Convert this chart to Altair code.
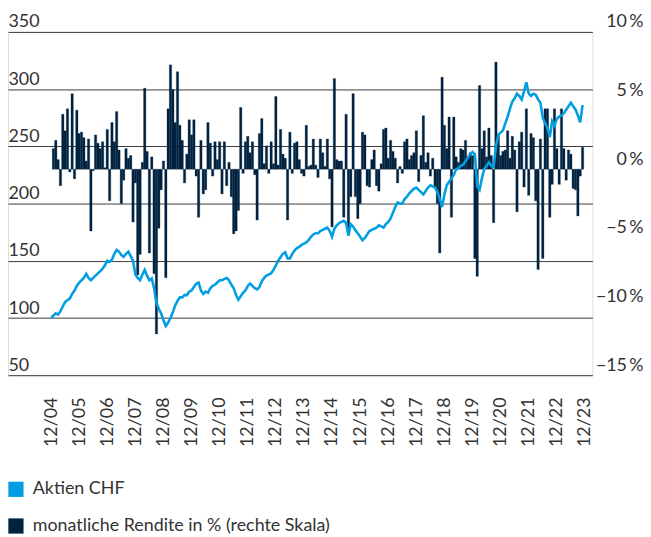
import altair as alt
import pandas as pd

# ---------------- data ----------------
tick_labels = ["12/04", "12/05", "12/06", "12/07", "12/08", "12/09", "12/10",
               "12/11", "12/12", "12/13", "12/14", "12/15", "12/16", "12/17",
               "12/18", "12/19", "12/20", "12/21", "12/22", "12/23"]

# Aktien CHF index (left scale), monthly, starting 12/2004 = 100
aktien_chf = [
    100, 102, 104, 103, 106, 110, 114, 115.5, 117, 121, 124, 128,
    131, 133, 135, 138.5, 135, 133, 135, 137, 139, 141, 143, 146,
    150, 149, 151, 156, 159.5, 158, 155, 153.5, 156, 158, 154, 150,
    138, 135, 133, 138, 142, 137, 133, 134.5, 126, 113, 108, 104,
    98, 93, 96, 100, 105, 111, 115, 118, 118, 120, 120, 123,
    124, 127, 130, 131, 124, 121, 123, 122, 126, 128, 129, 131,
    133, 133, 134, 135, 133, 129, 126, 120, 116, 119, 122, 124,
    128, 130, 128, 126, 125, 127, 132, 135, 137, 138, 139, 142,
    146, 150, 153, 156, 157.5, 152, 152, 156, 159, 161, 162, 164,
    165, 166, 168, 171, 173, 174, 174, 176, 177, 178, 179, 176,
    171, 178, 181, 183, 184, 185, 183, 172, 182, 180, 176.5, 174,
    171, 168, 170, 173, 176, 177, 178, 179, 181, 180, 179, 182,
    184, 187, 192, 197, 201, 200, 200, 204, 206, 209, 211, 213,
    214, 212, 210, 208, 211, 214, 216, 215, 214, 210, 204, 197,
    208, 216, 219, 222, 225, 230, 231, 233, 234, 237, 240, 243,
    245, 243, 215, 212, 222, 230, 233, 236, 233, 232, 250, 260,
    262, 264, 270, 276, 283, 289, 292, 296, 294, 291, 298, 306,
    296, 294, 296, 295, 291, 288, 275, 270, 266, 258, 272, 268,
    274, 276, 277, 279, 282, 285, 288, 285, 282, 277, 271, 286,
]

# monthly return in % (right scale), 01/2005 .. 11/2023
rendite = [
    1.5, 2.1, 0.7, -1.2, 4.0, 2.8, 4.4, -0.2, 5.5, -0.7, 4.3, 2.6,
    2.7, 2.3, 0.6, 2.2, -4.5, -0.1, 2.5, 1.9, 1.5, 2.0, 0.1, 2.9,
    -2.3, 3.4, 2.0, 4.2, 1.4, -2.5, -0.8, 1.5, 0.8, 1.0, -3.85, -1.0,
    -7.7, -6.2, 0.5, 5.9, 1.3, -6.1, 0.9, -7.6, -12.0, -4.3, -1.5, 0.6,
    -7.9, 4.4, 7.6, 5.8, 3.4, 7.1, 3.2, 2.1, -1.0, 1.1, 3.6, 2.5,
    3.6, -0.5, -3.5, 2.1, -1.8, -1.5, 3.4, 1.9, -0.5, 2.0, 0.7, 2.0,
    -1.8, 2.0, -1.2, 0.5, -2.0, -4.7, -4.5, -3.0, 4.5, -0.3, 2.0, 2.4,
    1.2, 2.0, -0.4, -3.7, 2.6, 3.7, 0.4, 1.7, -0.3, 2.0, 0.4, 5.3,
    0.3, 2.9, 1.1, 0.8, -3.7, 2.7, -0.3, 1.9, 2.0, 0.7, -0.3, -0.5,
    3.2, 0.2, 0.3, 2.2, 0.3, -0.6, 2.2, 1.2, 0.2, 2.2, -0.7, -4.2,
    6.6, 0.7, 0.6, 0.6, -3.5, 4.0, -4.8, -2.0, 5.5, -2.0, -3.6, -2.5,
    2.7, 2.5, -1.2, -1.3, 0.7, 1.4, -1.2, -1.6, 0.4, 2.9, 3.0, 0.8,
    2.1, 1.3, 0.8, -1.0, 0.2, -0.3, 2.0, 2.2, 0.7, 1.0, 1.2, 2.8,
    -0.9, 1.0, 3.9, 0.5, 1.2, -0.5, 0.8, -1.3, -2.5, -6.1, 6.7, 3.2,
    1.5, 3.8, -3.5, 3.8, 0.9, 0.5, 1.5, 1.4, 2.1, 0.9, 1.2, 1.0,
    -6.5, -7.8, 6.1, 1.5, 2.8, 0.9, 3.0, 1.0, -3.9, 7.8, 2.5, 1.0,
    1.3, 1.4, 2.8, 0.8, 2.4, 1.4, -3.1, 2.0, 2.7, -1.3, 4.4, -1.9,
    2.6, 2.3, -2.3, -7.3, 2.2, -6.5, 4.4, 4.4, -3.5, -1.1, 4.4, 1.5,
    -1.1, 4.4, 1.5, -0.8, 1.4, 1.1, -1.4, -1.5, -3.4, -0.5, 1.6,
]

series_names = ["Aktien CHF", "monatliche Rendite in % (rechte Skala)"]
series_colors = ["#009EE2", "#00233F"]

left_ticks = [50, 100, 150, 200, 250, 300, 350]
right_ticks = [-15, -10, -5, 0, 5, 10]

# ---------------- tables ----------------
line_df = pd.DataFrame({"t": list(range(len(aktien_chf))), "v": aktien_chf})
bar_df = pd.DataFrame({
    "t": list(range(1, len(rendite) + 1)),
    "r": rendite,
    "series": series_names[1],
})

FONT = "Lato"
TXT = "#333333"
tick_vals = [12 * i for i in range(len(tick_labels))]
label_expr = "[" + ",".join("'%s'" % s for s in tick_labels) + "][round(datum.value / 12)]"

x_scale = alt.Scale(domain=[-18.4, 231.2], nice=False, zero=False)
x_axis = alt.Axis(values=tick_vals, labelExpr=label_expr, labelAngle=-90,
                  labelAlign="right", labelBaseline="middle",
                  labelPadding=22, domain=False, ticks=False, grid=False,
                  labelFont=FONT, labelFontSize=18, labelColor=TXT, title=None)

bars = alt.Chart(bar_df).transform_calculate(
    t0="datum.t - 0.5", t1="datum.t + 0.5"
).mark_bar(stroke="#00233F", strokeWidth=0.3).encode(
    x=alt.X("t0:Q", scale=x_scale, title=None, axis=x_axis),
    x2="t1:Q",
    y=alt.Y("r:Q", title=None,
            scale=alt.Scale(domain=[-15, 10], nice=False, zero=True),
            axis=alt.Axis(orient="right", values=right_ticks, grid=False,
                          domain=False, ticks=False, tickSize=0,
                          labelAlign="right", labelPadding=51,
                          labelBaseline="alphabetic", labelOffset=-5,
                          labelExpr="(datum.value < 0 ? '\u2212' + abs(datum.value) : datum.value) + '\u2009%'",
                          labelFont=FONT, labelFontSize=18, labelColor=TXT)),
    y2=alt.datum(0),
    color=alt.Color("series:N",
                    scale=alt.Scale(domain=series_names, range=series_colors),
                    legend=alt.Legend(title=None, orient="none", legendX=-1, legendY=452,
                                      direction="vertical", symbolType="square",
                                      symbolSize=235, symbolStrokeWidth=0,
                                      labelFont=FONT, labelFontSize=18, labelColor=TXT,
                                      labelLimit=500, labelOffset=8, rowPadding=19,
                                      padding=0)),
)

line = alt.Chart(line_df).mark_line(color=series_colors[0], strokeWidth=2.6).encode(
    x=alt.X("t:Q", scale=x_scale, title=None, axis=x_axis),
    y=alt.Y("v:Q", title=None,
            scale=alt.Scale(domain=[50, 350], nice=False, zero=False),
            axis=alt.Axis(orient="left", values=left_ticks, grid=True,
                          gridColor="#3a3a3a", gridWidth=1, gridOpacity=1,
                          domain=False, ticks=False, tickSize=0,
                          labelAlign="left", labelPadding=0,
                          labelBaseline="alphabetic", labelOffset=-5,
                          labelFont=FONT, labelFontSize=18, labelColor=TXT)),
)

chart = alt.layer(bars, line).resolve_scale(y="independent").properties(
    width=589, height=346,
    autosize=alt.AutoSizeParams(type="none"),
    padding={"left": 0, "top": 22, "right": 51, "bottom": 162},
).configure_view(stroke=None).configure(background="white")

chart.save("out.html", embed_options={"renderer": "svg", "actions": False})
